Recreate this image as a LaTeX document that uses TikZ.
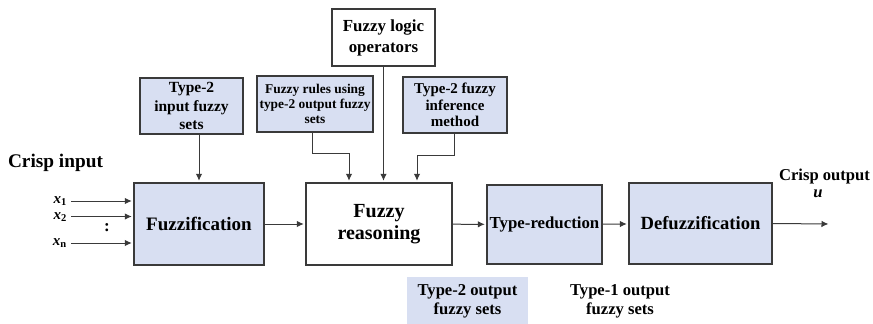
\documentclass[tikz,border=0pt]{standalone}
\usepackage{fontspec}
\setmainfont{Liberation Serif}
\usetikzlibrary{arrows.meta}

\definecolor{setblue}{RGB}{216,223,242}
\definecolor{edge}{RGB}{58,58,58}
\newcommand{\setsz}[2]{\fontsize{#1}{#2}\selectfont\bfseries}

\begin{document}
\begin{tikzpicture}[x=1pt, y=-1pt,
    box/.style={draw=edge, line width=1.4pt, fill=white, align=center, inner sep=1pt},
    bluebox/.style={box, fill=setblue},
    inlabel/.style={anchor=east, inner sep=0pt, text height=8pt, text depth=3pt, font=\setsz{15}{17}},
    arr/.style={draw=edge, line width=1pt, shorten >=1.5pt, -{Latex[length=7pt,width=6.5pt]}}]

\useasboundingbox (0,0) rectangle (873,324);

\node[bluebox, minimum width=103, minimum height=56, font=\setsz{15.5}{18.5}] (in2) at (191.5,106) {Type-2\\input fuzzy\\sets};
\node[bluebox, minimum width=116, minimum height=56, font=\setsz{13.4}{15}] (rules) at (315,104) {Fuzzy rules using\\type-2 output fuzzy\\sets};
\node[box, minimum width=103, minimum height=57, font=\setsz{16.9}{21}] (logic) at (383.5,37.5) {Fuzzy logic\\operators};
\node[bluebox, minimum width=104, minimum height=56, font=\setsz{15}{16.5}] (infer) at (455,105) {Type-2 fuzzy\\inference\\method};

\node[bluebox, minimum width=130, minimum height=82, font=\setsz{19}{21}] (fuzz) at (199,224) {Fuzzification};
\node[box, minimum width=146, minimum height=82, font=\setsz{20}{21.5}] (reason) at (379,224) {Fuzzy\\reasoning};
\node[bluebox, minimum width=115, minimum height=79, font=\setsz{16.8}{19}] (tred) at (544.5,224.5) {Type-reduction};
\node[bluebox, minimum width=143, minimum height=81, font=\setsz{18.6}{21}] (defuzz) at (700.5,223.5) {Defuzzification};

\node[fill=setblue, minimum width=121, minimum height=48, align=center, font=\setsz{16.6}{19}] (t2out) at (467.5,301) {Type-2 output\\fuzzy sets};
\node[align=center, font=\setsz{16.6}{19}] (t1out) at (620,301) {Type-1 output\\fuzzy sets};

\node[font=\setsz{19.3}{21}] (cin) at (55.5,163) {Crisp input};
\node[font=\setsz{16.6}{19}] (cout) at (824.5,177) {Crisp output};
\node[font=\setsz{16.6}{19}\itshape] (u) at (818,194) {u};

\node[inlabel] (x1) at (67,201) {\textit{x}\textsubscript{1}};
\node[inlabel] (x2) at (67,216.5) {\textit{x}\textsubscript{2}};
\node[font=\setsz{17}{19}] (dots) at (107,228) {:};
\node[inlabel] (xn) at (67,243) {\textit{x}\textsubscript{n}};

\foreach \i in {x1,x2,xn}
{
    \draw[arr, shorten <=4pt] (\i.east) -- (\i.east -| fuzz.west);
}

\draw[arr] (in2.south -| fuzz.north) -- (fuzz.north);
\draw[arr] ([xshift=-3pt]rules.south) -- ++(0,21) -| ([xshift=-30pt]reason.north);
\draw[arr] (logic.south) -- (logic.south |- reason.north);
\draw[arr] ([xshift=-1pt]infer.south) -- ++(0,22) -| ([xshift=38pt]reason.north);

\draw[arr] (fuzz) -- (reason);
\draw[arr] (reason) -- (tred);
\draw[arr] (tred) -- (defuzz);
\coordinate (out) at (830,224);
\draw[arr] (defuzz.east) -- (out);

\end{tikzpicture}
\end{document}
